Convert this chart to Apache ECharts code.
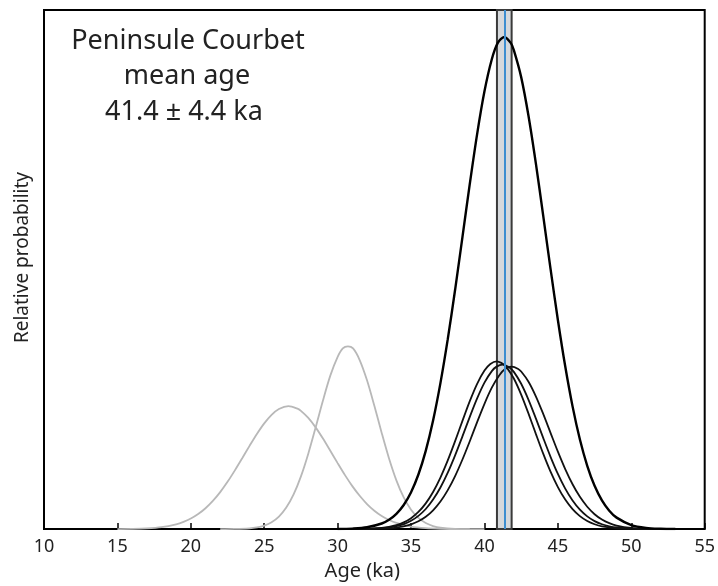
<!DOCTYPE html>
<html>
<head>
<meta charset="utf-8">
<script src="https://cdn.jsdelivr.net/npm/echarts@6/dist/echarts.min.js"></script>
<style>
html,body{margin:0;padding:0;background:#fff;}
#chart{width:718px;height:586px;}
</style>
</head>
<body>
<div id="chart"></div>
<script>
// Tick labels / axis
var xTicks = [10, 15, 20, 25, 30, 35, 40, 45, 50, 55];

// Mean age band (ka)
var meanAge = 41.35;
var meanLow = 40.85;
var meanHigh = 41.85;

// Grey (excluded) sample curves: [age ka, relative probability]
var grey1 = [[15,0.0001],[16,0.0004],[17,0.0013],[18,0.0037],[19,0.0092],[19.5,0.0138],[20,0.0203],[20.5,0.0290],[21,0.0402],[21.5,0.0543],[22,0.0713],[22.5,0.0910],[23,0.1131],[23.5,0.1366],[24,0.1604],[24.5,0.1833],[25,0.2037],[25.5,0.2202],[26,0.2315],[26.65,0.2370],[27.3,0.2315],[27.5,0.2277],[28,0.2142],[28.5,0.1960],[29,0.1744],[29.5,0.1509],[30,0.1271],[30.5,0.1040],[31,0.0828],[31.5,0.0642],[32,0.0483],[32.5,0.0354],[33,0.0252],[33.5,0.0175],[34,0.0118],[35,0.0049],[36,0.0018],[37,0.0006],[38,0.0002],[40,0]];
var grey2 = [[22,0],[23,0.0003],[24,0.0015],[24.5,0.0033],[25,0.0068],[25.5,0.0132],[26,0.0241],[26.5,0.0414],[27,0.0668],[27.5,0.1016],[28,0.1453],[28.5,0.1957],[29,0.2478],[29.5,0.2956],[30,0.3317],[30.35,0.3480],[30.7,0.3520],[31.05,0.3480],[31.5,0.3257],[32,0.2867],[32.5,0.2376],[33,0.1853],[33.5,0.1360],[34,0.0939],[34.5,0.0610],[35,0.0373],[35.5,0.0215],[36,0.0117],[36.5,0.0059],[37,0.0028],[38,0.0005],[39,0.0001]];

// Black (retained) sample curves
var black1 = [[31,0.0001],[32,0.0006],[33,0.0024],[33.5,0.0043],[34,0.0076],[34.5,0.0130],[35,0.0211],[35.5,0.0330],[36,0.0496],[36.5,0.0716],[37,0.0993],[37.5,0.1323],[38,0.1694],[38.5,0.2084],[39,0.2464],[39.5,0.2798],[40,0.3053],[40.4,0.3180],[40.84,0.3230],[41.3,0.3176],[41.5,0.3120],[42,0.2901],[42.5,0.2591],[43,0.2224],[43.5,0.1834],[44,0.1453],[44.5,0.1106],[45,0.0809],[45.5,0.0568],[46,0.0384],[46.5,0.0249],[47,0.0155],[47.5,0.0093],[48,0.0053],[49,0.0016],[50,0.0004],[51,0.0001]];
var black2 = [[31,0.0001],[32,0.0005],[33,0.0017],[33.5,0.0032],[34,0.0057],[34.5,0.0097],[35,0.0160],[35.5,0.0254],[36,0.0387],[36.5,0.0568],[37,0.0801],[37.5,0.1087],[38,0.1421],[38.5,0.1787],[39,0.2163],[39.5,0.2518],[40,0.2822],[40.5,0.3043],[40.8,0.3125],[41.23,0.3170],[41.7,0.3115],[42,0.3029],[42.5,0.2800],[43,0.2491],[43.5,0.2133],[44,0.1757],[44.5,0.1393],[45,0.1063],[45.5,0.0780],[46,0.0551],[46.5,0.0374],[47,0.0245],[47.5,0.0154],[48,0.0093],[48.5,0.0054],[49,0.0031],[50,0.0009],[51,0.0002],[52,0]];
var black3 = [[32,0.0002],[33,0.0009],[33.5,0.0016],[34,0.0030],[34.5,0.0053],[35,0.0091],[35.5,0.0150],[36,0.0237],[36.5,0.0362],[37,0.0531],[37.5,0.0751],[38,0.1022],[38.5,0.1341],[39,0.1693],[39.5,0.2060],[40,0.2414],[40.5,0.2724],[41,0.2961],[41.4,0.3085],[41.86,0.3130],[42.3,0.3085],[42.5,0.3035],[43,0.2839],[43.5,0.2558],[44,0.2219],[44.5,0.1855],[45,0.1492],[45.5,0.1157],[46,0.0864],[46.5,0.0621],[47,0.0430],[47.5,0.0287],[48,0.0184],[48.5,0.0114],[49,0.0068],[50,0.0022],[51,0.0006],[52,0.0001]];

// Summed probability curve
var summed = [[30,0.0002],[31,0.0010],[32,0.0035],[33,0.0108],[33.5,0.0181],[34,0.0295],[34.5,0.0465],[35,0.0711],[35.5,0.1052],[36,0.1507],[36.5,0.2092],[37,0.2812],[37.5,0.3659],[38,0.4610],[38.5,0.5626],[39,0.6649],[39.5,0.7610],[40,0.8433],[40.5,0.9051],[40.9,0.9362],[41.35,0.9480],[41.8,0.9362],[42,0.9226],[42.5,0.8707],[43,0.7958],[43.5,0.7045],[44,0.6038],[44.5,0.5012],[45,0.4029],[45.5,0.3136],[46,0.2364],[46.5,0.1725],[47,0.1220],[47.5,0.0835],[48,0.0554],[48.5,0.0355],[49,0.0221],[50,0.0078],[51,0.0024],[52,0.0007],[53,0.0002]];

var titleLines = ['Peninsule Courbet', 'mean age', '41.4 \u00b1 4.4 ka'];

var FONT = 'Noto Sans';
var chart = echarts.init(document.getElementById('chart'), null, {renderer: 'canvas'});

function curve(name, data, color, width) {
  return {
    name: name, type: 'line', data: data, smooth: 0.3, showSymbol: false,
    lineStyle: {color: color, width: width}, silent: true, animation: false
  };
}

var s0 = curve('grey1', grey1, '#b8b8b8', 1.8);
s0.markArea = {
  silent: true,
  itemStyle: {color: '#d6d9dc', borderColor: '#3a3a3a', borderWidth: 2},
  data: [[{xAxis: meanLow}, {xAxis: meanHigh}]]
};
var sSum = curve('summed', summed, '#000', 2.4);
sSum.markLine = {
  silent: true, symbol: ['none', 'none'], label: {show: false},
  lineStyle: {color: '#3d8ed0', width: 2, type: 'solid'},
  data: [{xAxis: meanAge}]
};

chart.setOption({
  animation: false,
  backgroundColor: '#ffffff',
  grid: {left: 44, right: 12, top: 10, bottom: 53, show: true, borderColor: '#000', borderWidth: 2, backgroundColor: 'transparent'},
  xAxis: {
    type: 'value', min: 10, max: 55, interval: 5,
    axisLine: {show: false},
    axisTick: {show: true, inside: true, length: 6, lineStyle: {color: '#000', width: 1.5}},
    splitLine: {show: false},
    axisLabel: {
      fontFamily: FONT, fontSize: 18, color: '#222', margin: 9,
      formatter: function (v) { return xTicks.indexOf(v) >= 0 ? String(v) : ''; }
    },
    name: 'Age (ka)', nameLocation: 'middle', nameGap: 29,
    nameTextStyle: {fontFamily: FONT, fontSize: 20, color: '#222', padding: [0, 24, 0, 0]}
  },
  yAxis: {
    type: 'value', min: 0, max: 1,
    axisLine: {show: false}, axisTick: {show: false}, axisLabel: {show: false}, splitLine: {show: false},
    name: 'Relative probability', nameLocation: 'middle', nameGap: 12,
    nameTextStyle: {fontFamily: FONT, fontSize: 19, color: '#222', padding: [0, 0, 0, 24]}
  },
  graphic: [
    {type: 'text', x: 188, y: 41, style: {text: titleLines[0], fontFamily: FONT, fontSize: 27, fill: '#222', align: 'center', verticalAlign: 'middle'}},
    {type: 'text', x: 187, y: 76, style: {text: titleLines[1], fontFamily: FONT, fontSize: 27, fill: '#222', align: 'center', verticalAlign: 'middle'}},
    {type: 'text', x: 184, y: 112, style: {text: titleLines[2], fontFamily: FONT, fontSize: 27, fill: '#222', align: 'center', verticalAlign: 'middle'}}
  ],
  series: [
    s0,
    curve('grey2', grey2, '#b8b8b8', 1.8),
    curve('black1', black1, '#111', 1.8),
    curve('black2', black2, '#111', 1.8),
    curve('black3', black3, '#111', 1.8),
    sSum
  ]
});
</script>
</body>
</html>
